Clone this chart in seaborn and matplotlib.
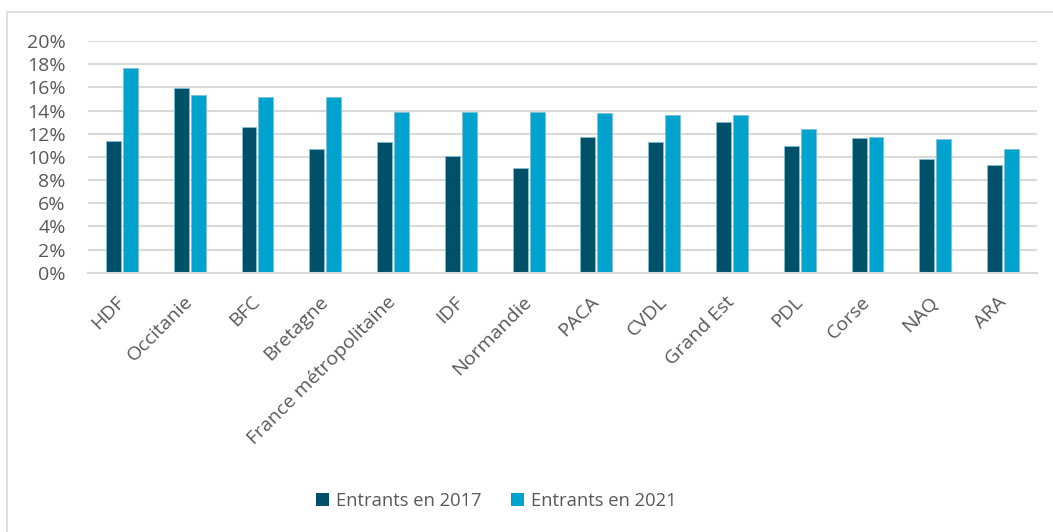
import matplotlib
matplotlib.use("Agg")
import matplotlib.pyplot as plt
import matplotlib.patches as mpatches
import matplotlib.ticker as mticker
import seaborn as sns
import pandas as pd

categories = ["HDF", "Occitanie", "BFC", "Bretagne", "France métropolitaine", "IDF",
              "Normandie", "PACA", "CVDL", "Grand Est", "PDL", "Corse", "NAQ", "ARA"]
series_names = ["Entrants en 2017", "Entrants en 2021"]
values_2017 = [11.4, 15.9, 12.6, 10.7, 11.3, 10.1, 9.0, 11.7, 11.3, 13.0, 10.9, 11.6, 9.8, 9.3]
values_2021 = [17.7, 15.3, 15.2, 15.2, 13.9, 13.9, 13.9, 13.8, 13.6, 13.6, 12.4, 11.7, 11.5, 10.7]
y_ticks = [0, 2, 4, 6, 8, 10, 12, 14, 16, 18, 20]

colors = ["#005069", "#00A3CE"]

df = pd.DataFrame({
    "region": categories * 2,
    "serie": [series_names[0]] * len(categories) + [series_names[1]] * len(categories),
    "value": values_2017 + values_2021,
})

sns.set_theme(style="white")
plt.rcParams["font.family"] = ["Open Sans", "DejaVu Sans"]

fig = plt.figure(figsize=(10.53, 5.32), dpi=100)
ax = fig.add_axes([88 / 1053, 1 - 272.7 / 532, (1037 - 88) / 1053, (272.7 - 41) / 532])

sns.barplot(data=df, x="region", y="value", hue="serie", order=categories,
            hue_order=series_names, palette=colors, width=0.5, gap=0.12,
            ax=ax, legend=False, saturation=1, edgecolor="#7FBFD3", linewidth=0.6)

ax.set_ylim(0, 20)
ax.set_xlim(-0.5, len(categories) - 0.5)
ax.set_yticks(y_ticks)
ax.yaxis.set_major_formatter(mticker.FuncFormatter(lambda v, p: f"{int(v)}%"))
ax.grid(axis="y", color="#D9D9D9", linewidth=1.5)
ax.set_axisbelow(True)
for s in ["top", "right", "left"]:
    ax.spines[s].set_visible(False)
ax.spines["bottom"].set_color("#D9D9D9")
ax.spines["bottom"].set_linewidth(1.5)
ax.set_xlabel("")
ax.set_ylabel("")
ax.tick_params(axis="y", labelsize=14, colors="#595959", length=0, pad=16)
ax.tick_params(axis="x", labelsize=14, colors="#595959", length=0, pad=19)
for lab in ax.get_yticklabels():
    lab.set_horizontalalignment("right")
for lab in ax.get_xticklabels():
    lab.set_rotation(45)
    lab.set_horizontalalignment("right")
    lab.set_verticalalignment("center")
    lab.set_rotation_mode("anchor")

handles = [mpatches.Patch(facecolor=c, edgecolor="none") for c in colors]
fig.legend(handles, series_names, loc="center", bbox_to_anchor=(496 / 1053, 1 - 501 / 532),
           ncol=2, frameon=False, fontsize=13.2, labelcolor="#595959",
           handlelength=0.75, handleheight=0.75, handletextpad=0.35, columnspacing=1.6)

border = mpatches.Rectangle((7 / 1053, -0.05), 1.1, 1 - 12 / 532 + 0.05,
                            transform=fig.transFigure, fill=False,
                            edgecolor="#D9D9D9", linewidth=1.2)
fig.patches.append(border)

fig.savefig("out.png", dpi=100)
